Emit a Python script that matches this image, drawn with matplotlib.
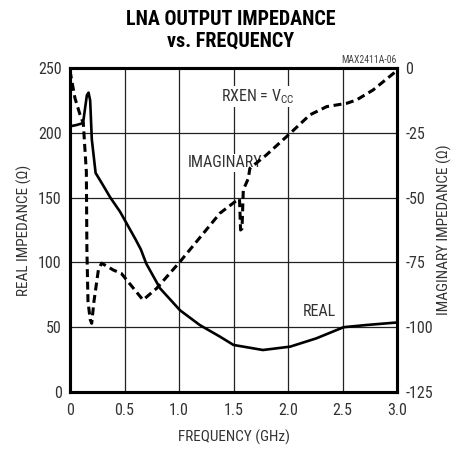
import matplotlib
matplotlib.use("Agg")
import matplotlib.pyplot as plt
from matplotlib import font_manager

# condensed font if there is one, else plain Liberation Sans
names = {f.name for f in font_manager.fontManager.ttflist}
FONT = "Liberation Sans"
for cand in ["Liberation Sans Narrow", "DejaVu Sans Condensed", "Roboto Condensed",
             "Open Sans Condensed", "Noto Sans Condensed"]:
    if cand in names:
        FONT = cand
        break
plt.rcParams['font.family'] = [FONT, 'DejaVu Sans']

# real impedance (ohm) vs frequency (GHz)
real_f = [0.0, 0.06, 0.12, 0.14, 0.155, 0.17, 0.185, 0.20, 0.235, 0.30, 0.37, 0.46, 0.52,
          0.60, 0.65, 0.70, 0.826, 1.01, 1.19, 1.376, 1.5, 1.77, 2.02, 2.26, 2.51, 2.72, 2.98, 3.0]
real_z = [205, 206, 207.5, 220, 229, 231, 225, 195, 169, 160, 150, 139, 130,
          118, 110, 99, 80, 63, 51.7, 42.7, 36.3, 32.4, 35, 41.4, 50, 51.7, 53.5, 53.6]

# imaginary impedance (ohm)
imag_f = [0.0, 0.015, 0.046, 0.092, 0.122, 0.150, 0.155, 0.165, 0.185, 0.199, 0.22, 0.26, 0.29,
          0.40, 0.47, 0.52, 0.67, 0.795, 1.01, 1.376, 1.514, 1.555, 1.565, 1.578, 1.59,
          1.636, 1.65, 1.80, 2.02, 2.2, 2.355, 2.54, 2.63, 2.78, 2.97, 3.0]
imag_z = [-1, -4.6, -11.7, -18, -21.3, -40, -70, -90, -97, -98.5, -90, -78, -75.3,
          -78, -79.2, -81.8, -89.5, -85, -74.7, -56, -51.6, -50.5, -62.5, -62, -47,
          -42.6, -38.7, -33.6, -25.2, -18.1, -14.9, -13.6, -12.3, -8.5, -2, -1]

x_ticks = [0, 0.5, 1.0, 1.5, 2.0, 2.5, 3.0]
x_labels = ['0', '0.5', '1.0', '1.5', '2.0', '2.5', '3.0']
left_ticks = [0, 50, 100, 150, 200, 250]
right_ticks = [0, -25, -50, -75, -100, -125]

fig = plt.figure(figsize=(4.61, 4.55), dpi=100)
ax = fig.add_axes([70 / 461, 1 - 392 / 455, 327 / 461, 324 / 455])
ax2 = ax.twinx()

ax.plot(real_f, real_z, color='black', lw=1.9, solid_joinstyle='round', zorder=3)
ax2.plot(imag_f, imag_z, color='black', lw=2.2, dashes=(2.6, 1.5), zorder=3)

ax.set_xlim(0, 3.0)
ax.set_ylim(0, 250)
ax2.set_ylim(-125, 0)

ax.set_xticks(x_ticks)
ax.set_xticklabels(x_labels)
ax.set_yticks(left_ticks)
ax2.set_yticks(right_ticks)
ax2.set_yticklabels([str(t) for t in right_ticks])

ax.grid(True, color='#222222', lw=0.9)
ax.set_axisbelow(True)
ax.tick_params(axis='y', length=0, labelsize=11.5, colors='#333333', pad=6)
ax.tick_params(axis='x', length=0, labelsize=11.5, colors='#333333', pad=8)
ax2.tick_params(length=0, labelsize=11.5, colors='#333333', pad=6)

for a in (ax, ax2):
    for s in a.spines.values():
        s.set_linewidth(2.2)

ax.set_xlabel('FREQUENCY (GHz)', fontsize=11, color='#333333', labelpad=8)
ax.set_ylabel('REAL IMPEDANCE (\u03a9)', fontsize=11, color='#333333', labelpad=4)
ax2.set_ylabel('IMAGINARY IMPEDANCE (\u03a9)', fontsize=11, color='#333333',
               rotation=90, labelpad=3)

ax.text(1.72, 228, 'RXEN = V$_{\\mathregular{CC}}$', fontsize=11.5, color='#333333',
        ha='center', va='center', zorder=4,
        bbox=dict(facecolor='white', edgecolor='none', pad=1))
ax.text(1.42, 177, 'IMAGINARY', fontsize=11.5, color='#333333', ha='center', va='center',
        zorder=4, bbox=dict(facecolor='white', edgecolor='none', pad=1))
ax.text(2.29, 62, 'REAL', fontsize=11.5, color='#333333', ha='center', va='center', zorder=4)
ax.text(1.0, 1.01, 'MAX2411A-06', transform=ax.transAxes, fontsize=7, color='#444444',
        ha='right', va='bottom')

fig.text(0.5, 0.934, 'LNA OUTPUT IMPEDANCE\nvs. FREQUENCY', ha='center', va='center',
         fontsize=14.5, fontweight='bold', linespacing=1.2)

fig.savefig('out.png', dpi=100)
